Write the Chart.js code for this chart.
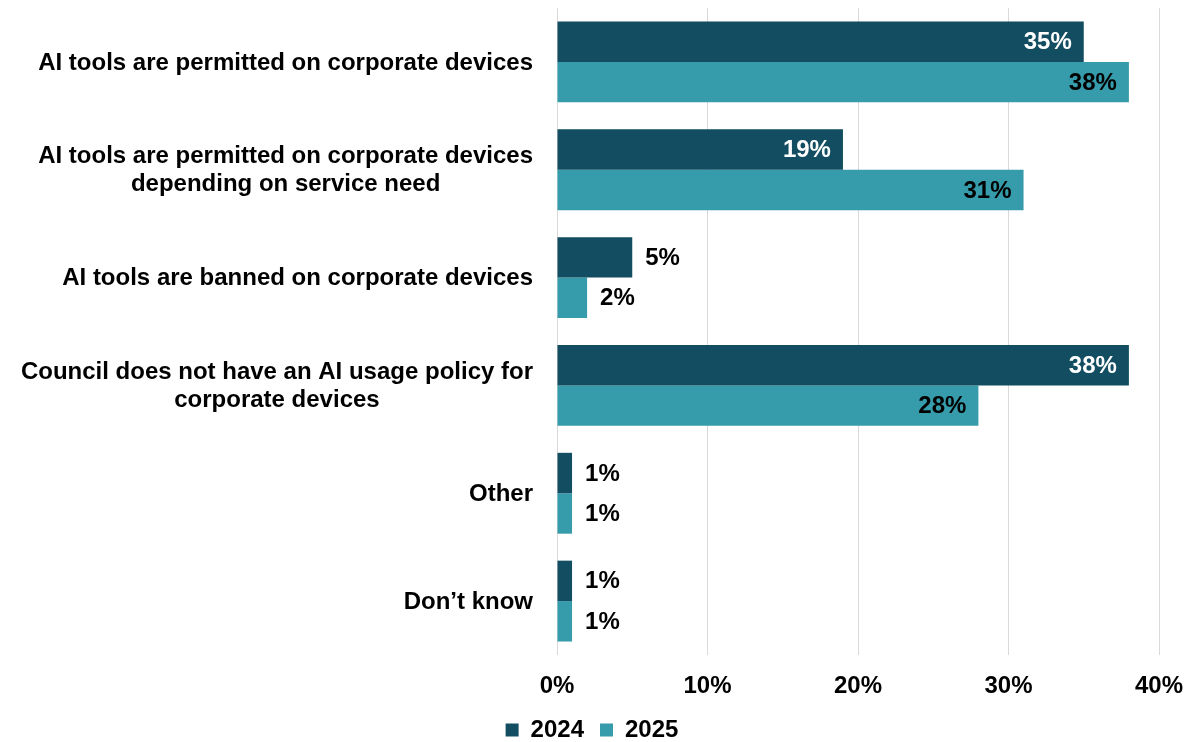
<!DOCTYPE html>
<html>
<head>
<meta charset="utf-8">
<script src="https://cdn.jsdelivr.net/npm/chart.js@4.4.1/dist/chart.umd.min.js"></script>
<style>
  html, body { margin: 0; padding: 0; background: #fff; }
  #wrap { width: 1190px; height: 742px; }
</style>
</head>
<body>
<div id="wrap"><canvas id="policyChart"></canvas></div>
<script>
const categories = [
  ["AI tools are permitted on corporate devices"],
  ["AI tools are permitted on corporate devices", "depending on service need"],
  ["AI tools are banned on corporate devices"],
  ["Council does not have an AI usage policy for", "corporate devices"],
  ["Other"],
  ["Don\u2019t know"]
];
const values2024 = [35, 19, 5, 38, 1, 1];
const values2025 = [38, 31, 2, 28, 1, 1];
const xMax = 40;
const xStep = 10;

const FONT = "'Liberation Sans', Arial, sans-serif";

// category names, each line centred within its own block, block right-aligned to the axis
const categoryLabels = {
  id: "categoryLabels",
  afterDraw(chart) {
    const { ctx } = chart;
    const y = chart.scales.y;
    ctx.save();
    ctx.font = "bold 24px " + FONT;
    ctx.fillStyle = "#000";
    ctx.textAlign = "center";
    ctx.textBaseline = "middle";
    const lineH = 28;
    chart.data.labels.forEach((lines, i) => {
      const w = Math.max(...lines.map(l => ctx.measureText(l).width));
      const cx = y.right - 24 - w / 2;
      const cy = y.getPixelForValue(i);
      lines.forEach((l, j) => {
        ctx.fillText(l, cx, cy + 1 + (j - (lines.length - 1) / 2) * lineH);
      });
    });
    ctx.restore();
  }
};

// percentage labels: inside the bar end for long bars, just past it for short ones
const valueLabels = {
  id: "valueLabels",
  afterDatasetsDraw(chart) {
    const { ctx } = chart;
    ctx.save();
    ctx.font = "bold 24px " + FONT;
    ctx.textBaseline = "middle";
    chart.data.datasets.forEach((ds, di) => {
      chart.getDatasetMeta(di).data.forEach((bar, i) => {
        const v = ds.data[i];
        const text = v + "%";
        if (v >= 10) {
          ctx.textAlign = "right";
          ctx.fillStyle = di === 0 ? "#fff" : "#000";
          ctx.fillText(text, bar.x - 12, bar.y + 1);
        } else {
          ctx.textAlign = "left";
          ctx.fillStyle = "#000";
          ctx.fillText(text, bar.x + 13, bar.y + 1);
        }
      });
    });
    ctx.restore();
  }
};

const ctx = document.getElementById("policyChart").getContext("2d");
const chart = new Chart(ctx, {
  type: "bar",
  data: {
    labels: categories,
    datasets: [
      {
        label: "2024",
        data: values2024,
        backgroundColor: "#124d61",
        categoryPercentage: 0.75,
        barPercentage: 1
      },
      {
        label: "2025",
        data: values2025,
        backgroundColor: "#369baa",
        categoryPercentage: 0.75,
        barPercentage: 1
      }
    ]
  },
  options: {
    indexAxis: "y",
    responsive: true,
    maintainAspectRatio: false,
    animation: false,
    layout: { padding: { top: 8, right: 6, bottom: -10, left: 0 } },
    scales: {
      x: {
        min: 0,
        max: xMax,
        border: { display: false },
        grid: { color: "#d9d9d9", lineWidth: 1, drawTicks: false },
        ticks: {
          stepSize: xStep,
          padding: 17,
          color: "#000",
          font: { family: FONT, size: 24, weight: "bold" },
          callback: v => v + "%"
        },
        afterFit(scale) {
          scale.height = 47;
          scale.paddingLeft = 0;
          scale.paddingRight = 31;
        }
      },
      y: {
        border: { display: false },
        grid: { display: false },
        ticks: { display: false },
        afterFit(scale) { scale.width = 557; }
      }
    },
    plugins: {
      legend: {
        position: "bottom",
        labels: {
          boxWidth: 13,
          boxHeight: 13,
          padding: 16,
          color: "#000",
          font: { family: FONT, size: 24, weight: "bold" }
        }
      },
      tooltip: { enabled: false }
    }
  },
  plugins: [categoryLabels, valueLabels]
});
</script>
</body>
</html>
